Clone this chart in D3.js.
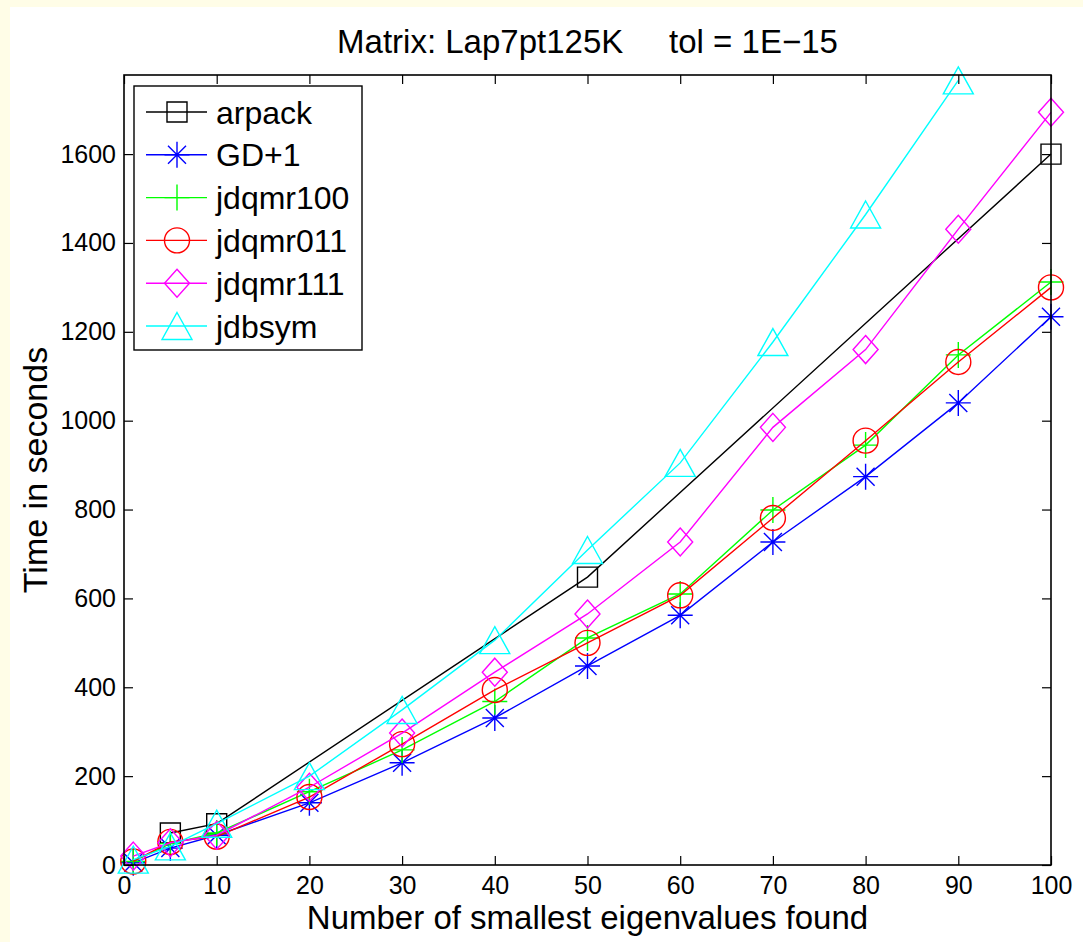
<!DOCTYPE html>
<html>
<head>
<meta charset="utf-8">
<script src="https://cdn.jsdelivr.net/npm/d3@7"></script>
<style>
  html, body { margin: 0; padding: 0; background: #fffde7; }
  svg { display: block; }
  text { font-family: "Liberation Sans", Arial, Helvetica, sans-serif; fill: #000; }
</style>
</head>
<body>
<svg id="chart" width="1083" height="942"></svg>
<script>
// Eigenvalue solver timings for Lap7pt125K
const xTicks = [0, 10, 20, 30, 40, 50, 60, 70, 80, 90, 100];
const yTicks = [0, 200, 400, 600, 800, 1000, 1200, 1400, 1600];

const nevFull = [1, 5, 10, 20, 30, 40, 50, 60, 70, 80, 90, 100];
const nevArpack = [5, 10, 50, 100];
const nevJdbsym = [1, 5, 10, 20, 30, 40, 50, 60, 70, 80, 90];

const arpackTimes   = [72, 93, 648, 1600];
const gdTimes       = [5, 38, 67, 140, 230, 331, 448, 562, 727, 874, 1040, 1234];
const jdqmr100Times = [8, 48, 72, 165, 259, 368, 511, 610, 799, 945, 1148, 1312];
const jdqmr011Times = [8, 52, 64, 153, 272, 394, 500, 607, 781, 955, 1132, 1300];
const jdqmr111Times = [20, 50, 67, 175, 297, 434, 565, 727, 985, 1160, 1431, 1694];
const jdbsymTimes   = [12, 42, 93, 200, 349, 506, 709, 905, 1177, 1464, 1766];

const seriesNames  = ["arpack", "GD+1", "jdqmr100", "jdqmr011", "jdqmr111", "jdbsym"];
const seriesColors = ["#000000", "#0000ff", "#00ff00", "#ff0000", "#ff00ff", "#00ffff"];
const seriesMarkers = ["square", "asterisk", "plus", "circle", "diamond", "triangle"];

const series = [
  { x: nevArpack, y: arpackTimes },
  { x: nevFull, y: gdTimes },
  { x: nevFull, y: jdqmr100Times },
  { x: nevFull, y: jdqmr011Times },
  { x: nevFull, y: jdqmr111Times },
  { x: nevJdbsym, y: jdbsymTimes }
].map((s, i) => ({
  name: seriesNames[i], color: seriesColors[i], marker: seriesMarkers[i],
  points: s.x.map((v, j) => [v, s.y[j]])
}));

const svg = d3.select("#chart");
const W = 1083, H = 942;
const plot = { left: 124, right: 1051, top: 75, bottom: 865 };

// white figure area with the pale border on the top and left
svg.append("rect").attr("x", 10).attr("y", 7).attr("width", W - 10).attr("height", H - 7).attr("fill", "#ffffff");

const x = d3.scaleLinear().domain([0, 100]).range([plot.left, plot.right]);
const y = d3.scaleLinear().domain([0, 1778]).range([plot.bottom, plot.top]);

// marker path builders (centered on 0,0)
function markerPath(type) {
  switch (type) {
    case "square": return "M-10,-10H10V10H-10Z";
    case "circle": return "M12.5,0A12.5,12.5 0 1,1 -12.5,0A12.5,12.5 0 1,1 12.5,0Z";
    case "diamond": return "M0,-14L12.5,0L0,14L-12.5,0Z";
    case "triangle": return "M0,-13.5L15,13.5L-15,13.5Z";
    case "plus": return "M0,-13V13M-12.5,0H12.5";
    case "asterisk": return "M0,-13V13M-12.5,0H12.5M-9,-9L9,9M-9,9L9,-9";
  }
}

// data lines and markers
const line = d3.line().x(d => x(d[0])).y(d => y(d[1]));
const gData = svg.append("g");
series.forEach(s => {
  const g = gData.append("g");
  g.append("path").attr("d", line(s.points))
    .attr("fill", "none").attr("stroke", s.color).attr("stroke-width", 1.4);
  g.selectAll("path.mk").data(s.points).join("path").attr("class", "mk")
    .attr("transform", d => `translate(${x(d[0])},${y(d[1])})`)
    .attr("d", markerPath(s.marker))
    .attr("fill", "none").attr("stroke", s.color).attr("stroke-width", 1.4);
});

// axes with inward ticks on all four sides
function styleAxis(g) {
  g.select(".domain").remove();
  g.selectAll(".tick line").attr("stroke", "#000").attr("stroke-width", 1.2);
  g.selectAll("text").style("font-size", "25px").attr("fill", "#000");
}
const fmt = d3.format("d");
svg.append("g").attr("transform", `translate(0,${plot.bottom})`)
  .call(d3.axisBottom(x).tickValues(xTicks).tickFormat(fmt).tickSizeInner(-9).tickSizeOuter(0).tickPadding(11))
  .call(styleAxis);
svg.append("g").attr("transform", `translate(0,${plot.top})`)
  .call(d3.axisTop(x).tickValues(xTicks).tickSizeInner(-9).tickSizeOuter(0).tickFormat(""))
  .call(styleAxis);
svg.append("g").attr("transform", `translate(${plot.left},0)`)
  .call(d3.axisLeft(y).tickValues(yTicks).tickFormat(fmt).tickSizeInner(-9).tickSizeOuter(0).tickPadding(8))
  .call(styleAxis);
svg.append("g").attr("transform", `translate(${plot.right},0)`)
  .call(d3.axisRight(y).tickValues(yTicks).tickSizeInner(-9).tickSizeOuter(0).tickFormat(""))
  .call(styleAxis);

// axes box
svg.append("rect").attr("x", plot.left).attr("y", plot.top)
  .attr("width", plot.right - plot.left).attr("height", plot.bottom - plot.top)
  .attr("fill", "none").attr("stroke", "#000").attr("stroke-width", 1.6);

// title and axis labels
const cx = (plot.left + plot.right) / 2;
svg.append("text").attr("x", cx).attr("y", 53).attr("text-anchor", "middle")
  .style("font-size", "33px").style("white-space", "pre")
  .text("Matrix: Lap7pt125K     tol = 1E\u221215");
svg.append("text").attr("x", cx).attr("y", 929).attr("text-anchor", "middle")
  .style("font-size", "33px").text("Number of smallest eigenvalues found");
svg.append("text").attr("transform", `translate(47,${(plot.top + plot.bottom) / 2}) rotate(-90)`)
  .attr("text-anchor", "middle").style("font-size", "34px").text("Time in seconds");

// legend
const leg = { x: 134, y: 86, w: 228, h: 264, row0: 112, step: 42.8 };
const gLeg = svg.append("g");
gLeg.append("rect").attr("x", leg.x).attr("y", leg.y).attr("width", leg.w).attr("height", leg.h)
  .attr("fill", "#ffffff").attr("stroke", "#000").attr("stroke-width", 1.4);
series.forEach((s, i) => {
  const cy = leg.row0 + i * leg.step;
  gLeg.append("line").attr("x1", 146).attr("x2", 207).attr("y1", cy).attr("y2", cy)
    .attr("stroke", s.color).attr("stroke-width", 1.4);
  gLeg.append("path").attr("transform", `translate(177,${cy})`).attr("d", markerPath(s.marker))
    .attr("fill", "none").attr("stroke", s.color).attr("stroke-width", 1.4);
  gLeg.append("text").attr("x", 216).attr("y", cy + 11.5).style("font-size", "32px").text(s.name);
});
</script>
</body>
</html>
